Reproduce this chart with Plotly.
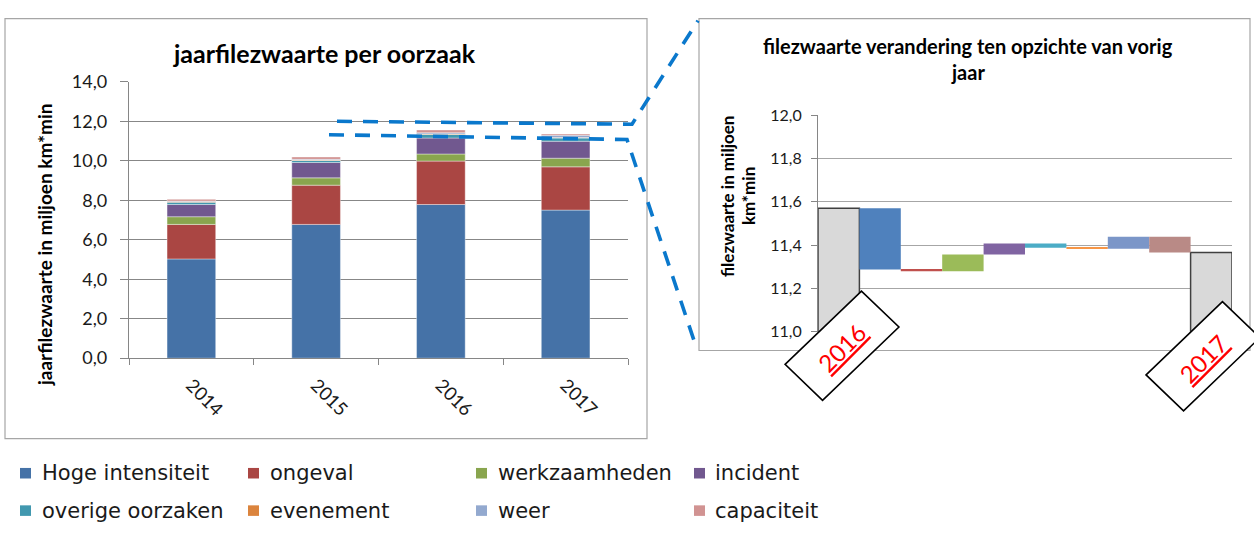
import math
import plotly.graph_objects as go

W, H = 1254, 535


def px(x):
    return x / W


def py(y):
    return 1 - y / H


# ---------------- data ----------------
years = ["2014", "2015", "2016", "2017"]
causes = ["Hoge intensiteit", "ongeval", "werkzaamheden", "incident",
          "overige oorzaken", "evenement", "weer", "capaciteit"]
hoge_intensiteit = [5.03, 6.78, 7.79, 7.507]
ongeval = [1.75, 1.99, 2.20, 2.192]
werkzaamheden = [0.39, 0.37, 0.36, 0.438]
incident = [0.62, 0.78, 0.81, 0.86]
overige_oorzaken = [0.12, 0.10, 0.18, 0.161]
evenement = [0.02, 0.02, 0.03, 0.025]
weer = [0.03, 0.04, 0.06, 0.116]
capaciteit = [0.09, 0.12, 0.14, 0.067]
y_ticks_left = [0, 2, 4, 6, 8, 10, 12, 14]
y_ticks_right = [11.0, 11.2, 11.4, 11.6, 11.8, 12.0]

series = [hoge_intensiteit, ongeval, werkzaamheden, incident,
          overige_oorzaken, evenement, weer, capaciteit]

left_colors = ["#4572a7", "#aa4643", "#89a54e", "#71588f",
               "#4198af", "#db843d", "#93a9cf", "#d19392"]
wf_colors = ["#4f81bd", "#c0504d", "#9bbb59", "#8064a2",
             "#4bacc6", "#f79646", "#7b96c8", "#b98a86"]

FONT = "Lato, 'Open Sans', sans-serif"
LEGFONT = "'DejaVu Sans', sans-serif"

fig = go.Figure()

# ---------------- left: stacked bars ----------------
cum = [0.0] * len(years)
for name, vals, col in zip(causes, series, left_colors):
    fig.add_trace(go.Bar(
        x=years, y=vals, base=list(cum), name=name, width=0.39,
        marker=dict(color=col, line=dict(color="rgba(255,255,255,0.55)", width=0.7)),
        xaxis="x", yaxis="y", hoverinfo="name+y"))
    cum = [c + v for c, v in zip(cum, vals)]

# ---------------- right: waterfall 2016 -> 2017 ----------------
i16, i17 = years.index("2016"), years.index("2017")
start = sum(s[i16] for s in series)
end = sum(s[i17] for s in series)
deltas = [s[i17] - s[i16] for s in series]
bases = []
run = start
for d in deltas:
    bases.append(run)
    run += d

fig.add_trace(go.Bar(
    x=[0, len(causes) + 1], y=[start, end], base=0, width=1.0,
    marker=dict(color="#d9d9d9", line=dict(color="#404040", width=1.5)),
    xaxis="x2", yaxis="y2", hoverinfo="y"))
fig.add_trace(go.Bar(
    x=list(range(1, len(causes) + 1)), y=deltas, base=bases, width=1.0,
    marker=dict(color=wf_colors, line=dict(width=0)),
    xaxis="x2", yaxis="y2", hovertext=causes, hoverinfo="text+y"))

# ---------------- layout ----------------
fig.update_layout(
    width=W, height=H, margin=dict(l=0, r=0, t=0, b=0),
    paper_bgcolor="white", plot_bgcolor="white",
    barmode="overlay", showlegend=False, separators=",.",
    font=dict(family=FONT, color="#1a1a1a"),
    xaxis=dict(domain=[px(129), px(628)], type="category", range=[-0.5, 3.5],
               tickson="boundaries", ticks="outside", ticklen=6, tickcolor="#868686",
               showline=True, linecolor="#868686", linewidth=1.3, tickangle=45,
               ticklabelstandoff=8,
               tickfont=dict(size=18.5, family=FONT, color="#1a1a1a"), showgrid=False),
    yaxis=dict(domain=[py(361), py(73)], range=[0, 14], tickvals=y_ticks_left,
               tickformat=".1f", showgrid=True, gridcolor="#878787", gridwidth=1.3,
               showline=True, linecolor="#868686", linewidth=1.3, ticks="outside",
               ticklen=8, tickcolor="#868686", zeroline=False, ticklabelstandoff=9,
               tickfont=dict(size=18, family=FONT, color="#1a1a1a")),
    xaxis2=dict(domain=[px(818), px(1232)], range=[-0.5, len(causes) + 1.5],
                showticklabels=False, showgrid=False, zeroline=False, showline=False,
                ticks="", anchor="y2"),
    yaxis2=dict(domain=[py(333.5), py(107.5)], range=[11.0, 12.0], tickvals=y_ticks_right,
                tickformat=".1f", showgrid=True, gridcolor="#a6a6a6", gridwidth=1.2,
                showline=True, linecolor="#868686", linewidth=1.2, ticks="outside",
                ticklen=6, tickcolor="#868686", zeroline=False, anchor="x2",
                ticklabelstandoff=6,
                tickfont=dict(size=16, family=FONT, color="#1a1a1a")),
)

shapes = []
annotations = []

# chart frames
shapes.append(dict(type="rect", xref="paper", yref="paper", x0=px(5), x1=px(647),
                   y0=py(445), y1=py(7), line=dict(color="#a6a6a6", width=1.2), layer="below"))
shapes.append(dict(type="rect", xref="paper", yref="paper", x0=px(699), x1=px(1250),
                   y0=py(353), y1=py(7), line=dict(color="#a6a6a6", width=1.2), layer="below"))


def path(points):
    return "M " + " L ".join(f"{px(x):.5f},{py(y):.5f}" for x, y in points)


# dashed zoom callout lines
for pts in ([(337, 114), (632, 117), (698, 9)],
            [(329, 128), (627, 133), (697, 352)]):
    shapes.append(dict(type="path", xref="paper", yref="paper", path=path(pts),
                       line=dict(color="#0a78cc", width=3.6, dash="15px,11px"), layer="above"))

# rotated label boxes
u = (math.cos(math.radians(45)), -math.sin(math.radians(45)))
v = (math.cos(math.radians(45)), math.sin(math.radians(45)))
L, Wd = 108, 53
for (cx, cy), label in (((842, 348), years[i16]), ((1203, 359), years[i17])):
    pts = []
    for a, b in ((-L / 2, -Wd / 2), (L / 2, -Wd / 2), (L / 2, Wd / 2), (-L / 2, Wd / 2)):
        pts.append((cx + a * u[0] + b * v[0], cy + a * u[1] + b * v[1]))
    shapes.append(dict(type="path", xref="paper", yref="paper", path=path(pts) + " Z",
                       fillcolor="white", line=dict(color="black", width=1.6), layer="above"))
    annotations.append(dict(x=px(cx), y=py(cy + 2), xref="paper", yref="paper",
                            text=f"<u>{label}</u>", showarrow=False, textangle=-45,
                            font=dict(size=24, color="#ff0000", family=FONT),
                            xanchor="center", yanchor="middle"))

# titles
annotations.append(dict(x=px(324), y=py(43), xref="paper", yref="paper",
                        text="<b>jaarfilezwaarte per oorzaak</b>", showarrow=False,
                        font=dict(size=25, color="black", family=FONT),
                        xanchor="center", yanchor="middle"))
annotations.append(dict(x=px(44), y=py(243), xref="paper", yref="paper",
                        text="<b>jaarfilezwaarte in miljoen km*min</b>", showarrow=False,
                        textangle=-90, font=dict(size=19, color="black", family=FONT),
                        xanchor="center", yanchor="middle"))
annotations.append(dict(x=px(968), y=py(35), xref="paper", yref="paper",
                        text="<b>filezwaarte verandering ten opzichte van vorig</b>",
                        showarrow=False, font=dict(size=20, color="black", family=FONT),
                        xanchor="center", yanchor="middle"))
annotations.append(dict(x=px(968), y=py(63), xref="paper", yref="paper",
                        text="<b>jaar</b>", showarrow=False,
                        font=dict(size=20, color="black", family=FONT),
                        xanchor="center", yanchor="middle"))
annotations.append(dict(x=px(727), y=py(192), xref="paper", yref="paper",
                        text="<b>filezwaarte in miljoen</b>", showarrow=False, textangle=-90,
                        font=dict(size=17, color="black", family=FONT),
                        xanchor="center", yanchor="middle"))
annotations.append(dict(x=px(748), y=py(192), xref="paper", yref="paper",
                        text="<b>km*min</b>", showarrow=False, textangle=-90,
                        font=dict(size=17, color="black", family=FONT),
                        xanchor="center", yanchor="middle"))

# legend (manual, 4 columns x 2 rows)
sq_x = [20, 248, 476, 694]
tx_x = [40, 268, 496, 713]
row_y = [481, 520]
for i, (name, col) in enumerate(zip(causes, left_colors)):
    c, r = i % 4, i // 4
    shapes.append(dict(type="rect", xref="paper", yref="paper",
                       x0=px(sq_x[c]), x1=px(sq_x[c] + 11),
                       y0=py(row_y[r] + 5.5), y1=py(row_y[r] - 5.5),
                       fillcolor=col, line=dict(width=0)))
    annotations.append(dict(x=px(tx_x[c]), y=py(row_y[r]), xref="paper", yref="paper",
                            text=name, showarrow=False,
                            font=dict(size=21, color="#1a1a1a", family=LEGFONT),
                            xanchor="left", yanchor="middle"))

fig.update_layout(shapes=shapes, annotations=annotations)

fig.write_html(
    "out.html",
    config={"displayModeBar": False},
    post_script="document.body.style.margin='0px';document.body.style.overflow='hidden';",
)
